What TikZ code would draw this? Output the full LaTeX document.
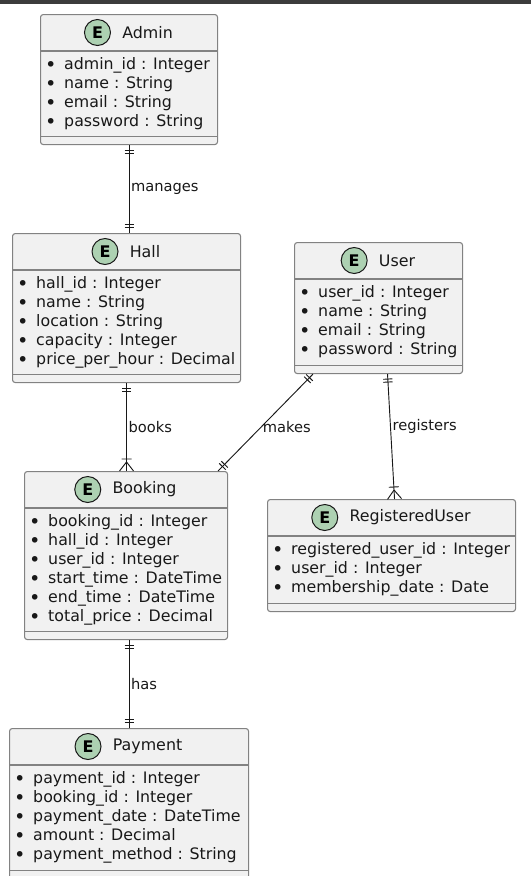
\documentclass[tikz,border=0pt]{standalone}
\usepackage{fontspec}
\setmainfont{DejaVu Sans}
\usetikzlibrary{positioning,calc,decorations.markings}
\definecolor{topbar}{RGB}{60,60,60}
\definecolor{entfill}{RGB}{241,241,241}
\definecolor{entline}{RGB}{130,130,130}
\definecolor{egreen}{RGB}{173,209,178}
\definecolor{ink}{RGB}{24,24,24}
\newcommand{\attrdot}{\strut\makebox[0pt][c]{\raisebox{-1.3pt}{\fontsize{14.5}{14}\selectfont•}}\hspace{10.1pt}}
\tikzset{
  ent/.style={draw=entline, line width=0.8pt, rounded corners=2pt, fill=entfill,
              anchor=north west, inner sep=0pt},
  ttl/.style={font=\fontsize{11.9}{14}\selectfont, text=ink, inner sep=0pt},
  ecirc/.style={circle, draw=ink, line width=0.75pt, fill=egreen, minimum size=19.5pt,
              inner sep=0pt, font=\fontsize{12}{14}\selectfont\bfseries, text=black},
  attrs/.style={font=\fontsize{11.85}{14.25}\selectfont, text=ink, align=left,
              inner sep=0pt, anchor=north west},
  sep/.style={draw=entline, line width=0.8pt},
  rel/.style={draw=ink, line width=0.7pt},
  lbl/.style={font=\fontsize{11}{13}\selectfont, text=ink, inner sep=1.2pt, right},
  onebar/.style={postaction={decorate, decoration={markings,
              mark=at position #1 with {\draw[ink, line width=0.7pt] (0,-3.4pt) -- (0,3.4pt);}}}},
  onestart/.style={onebar=3.75pt, onebar=6pt},
  oneend/.style={onebar=-4.5pt, onebar=-6.75pt},
  manyend/.style={postaction={decorate, decoration={markings,
              mark=at position -0.01pt with {\draw[ink, line width=0.7pt]
                (0,-5.25pt) -- (-6.75pt,0) -- (0,5.25pt) (-9pt,-3.75pt) -- (-9pt,3.75pt);}}}},
}

\begin{document}
\begin{tikzpicture}[x=0.75pt, y=-0.75pt]
  \useasboundingbox (0,0) rectangle (531,876);
  \fill[topbar] (0,0) rectangle (531,4);

  % Admin
  \node[ent, minimum width=132.75pt, minimum height=97.5pt] (admin) at (40,14) {};
  \node[ttl] (admin-t) at ($(admin.north)+(18.5,18.5)$) {Admin};
  \node[ecirc, left=8.25pt of admin-t] (admin-e) {E};
  \draw[sep] ($(admin.north west)+(0,37)$) -- ($(admin.north east)+(0,37)$);
  \draw[sep] ($(admin.south west)+(0,-9)$) -- ($(admin.south east)+(0,-9)$);
  \node[attrs] (admin-a) at ($(admin.north west)+(10.5,42)$)
    {\attrdot admin\_id : Integer\\\attrdot name : String\\
     \attrdot email : String\\\attrdot password : String};

  % Hall
  \node[ent, minimum width=171pt, minimum height=111.75pt] (hall) at (12,233) {};
  \node[ttl] (hall-t) at ($(hall.north)+(18.5,18.5)$) {Hall};
  \node[ecirc, left=8.25pt of hall-t] (hall-e) {E};
  \draw[sep] ($(hall.north west)+(0,37)$) -- ($(hall.north east)+(0,37)$);
  \draw[sep] ($(hall.south west)+(0,-9)$) -- ($(hall.south east)+(0,-9)$);
  \node[attrs] (hall-a) at ($(hall.north west)+(10.5,42)$)
    {\attrdot hall\_id : Integer\\\attrdot name : String\\\attrdot location : String\\
     \attrdot capacity : Integer\\\attrdot price\_per\_hour : Decimal};

  % User
  \node[ent, minimum width=126pt, minimum height=98.25pt] (user) at (294,242) {};
  \node[ttl] (user-t) at ($(user.north)+(18.5,18.5)$) {User};
  \node[ecirc, left=8.25pt of user-t] (user-e) {E};
  \draw[sep] ($(user.north west)+(0,37)$) -- ($(user.north east)+(0,37)$);
  \draw[sep] ($(user.south west)+(0,-9)$) -- ($(user.south east)+(0,-9)$);
  \node[attrs] (user-a) at ($(user.north west)+(10.5,42)$)
    {\attrdot user\_id : Integer\\\attrdot name : String\\
     \attrdot email : String\\\attrdot password : String};

  % Booking
  \node[ent, minimum width=152.25pt, minimum height=126pt] (booking) at (24,471) {};
  \node[ttl] (booking-t) at ($(booking.north)+(18.5,18.5)$) {Booking};
  \node[ecirc, left=8.25pt of booking-t] (booking-e) {E};
  \draw[sep] ($(booking.north west)+(0,37)$) -- ($(booking.north east)+(0,37)$);
  \draw[sep] ($(booking.south west)+(0,-9)$) -- ($(booking.south east)+(0,-9)$);
  \node[attrs] (booking-a) at ($(booking.north west)+(10.5,42)$)
    {\attrdot booking\_id : Integer\\\attrdot hall\_id : Integer\\\attrdot user\_id : Integer\\
     \attrdot start\_time : DateTime\\\attrdot end\_time : DateTime\\\attrdot total\_price : Decimal};

  % RegisteredUser
  \node[ent, minimum width=186pt, minimum height=84pt] (reg) at (267,499) {};
  \node[ttl] (reg-t) at ($(reg.north)+(18.5,18.5)$) {RegisteredUser};
  \node[ecirc, left=8.25pt of reg-t] (reg-e) {E};
  \draw[sep] ($(reg.north west)+(0,37)$) -- ($(reg.north east)+(0,37)$);
  \draw[sep] ($(reg.south west)+(0,-9)$) -- ($(reg.south east)+(0,-9)$);
  \node[attrs] (reg-a) at ($(reg.north west)+(10.5,42)$)
    {\attrdot registered\_user\_id : Integer\\\attrdot user\_id : Integer\\
     \attrdot membership\_date : Date};

  % Payment
  \node[ent, minimum width=179.25pt, minimum height=112.5pt] (pay) at (9,728) {};
  \node[ttl] (pay-t) at ($(pay.north)+(18.5,18.5)$) {Payment};
  \node[ecirc, left=8.25pt of pay-t] (pay-e) {E};
  \draw[sep] ($(pay.north west)+(0,37)$) -- ($(pay.north east)+(0,37)$);
  \draw[sep] ($(pay.south west)+(0,-9)$) -- ($(pay.south east)+(0,-9)$);
  \node[attrs] (pay-a) at ($(pay.north west)+(10.5,42)$)
    {\attrdot payment\_id : Integer\\\attrdot booking\_id : Integer\\
     \attrdot payment\_date : DateTime\\\attrdot amount : Decimal\\
     \attrdot payment\_method : String};

  % relations
  \draw[rel, onestart, oneend] (admin.south) -- (admin.south |- hall.north)
    node[lbl, midway] {manages};
  \draw[rel, onestart, manyend] (hall.south) -- (hall.south |- booking.north)
    node[lbl, midway] {books};
  \draw[rel, onestart, oneend] ($(user.south west)+(19,0)$) -- ($(booking.north east)+(-10,0)$)
    node[lbl, pos=0.55] {makes};
  \draw[rel, onestart, manyend] ($(user.south)+(9,0)$) -- ($(reg.north)+(3,0)$)
    node[lbl, pos=0.42] {registers};
  \draw[rel, onestart, oneend] (booking.south -| pay.north) -- (pay.north)
    node[lbl, midway] {has};
\end{tikzpicture}
\end{document}
